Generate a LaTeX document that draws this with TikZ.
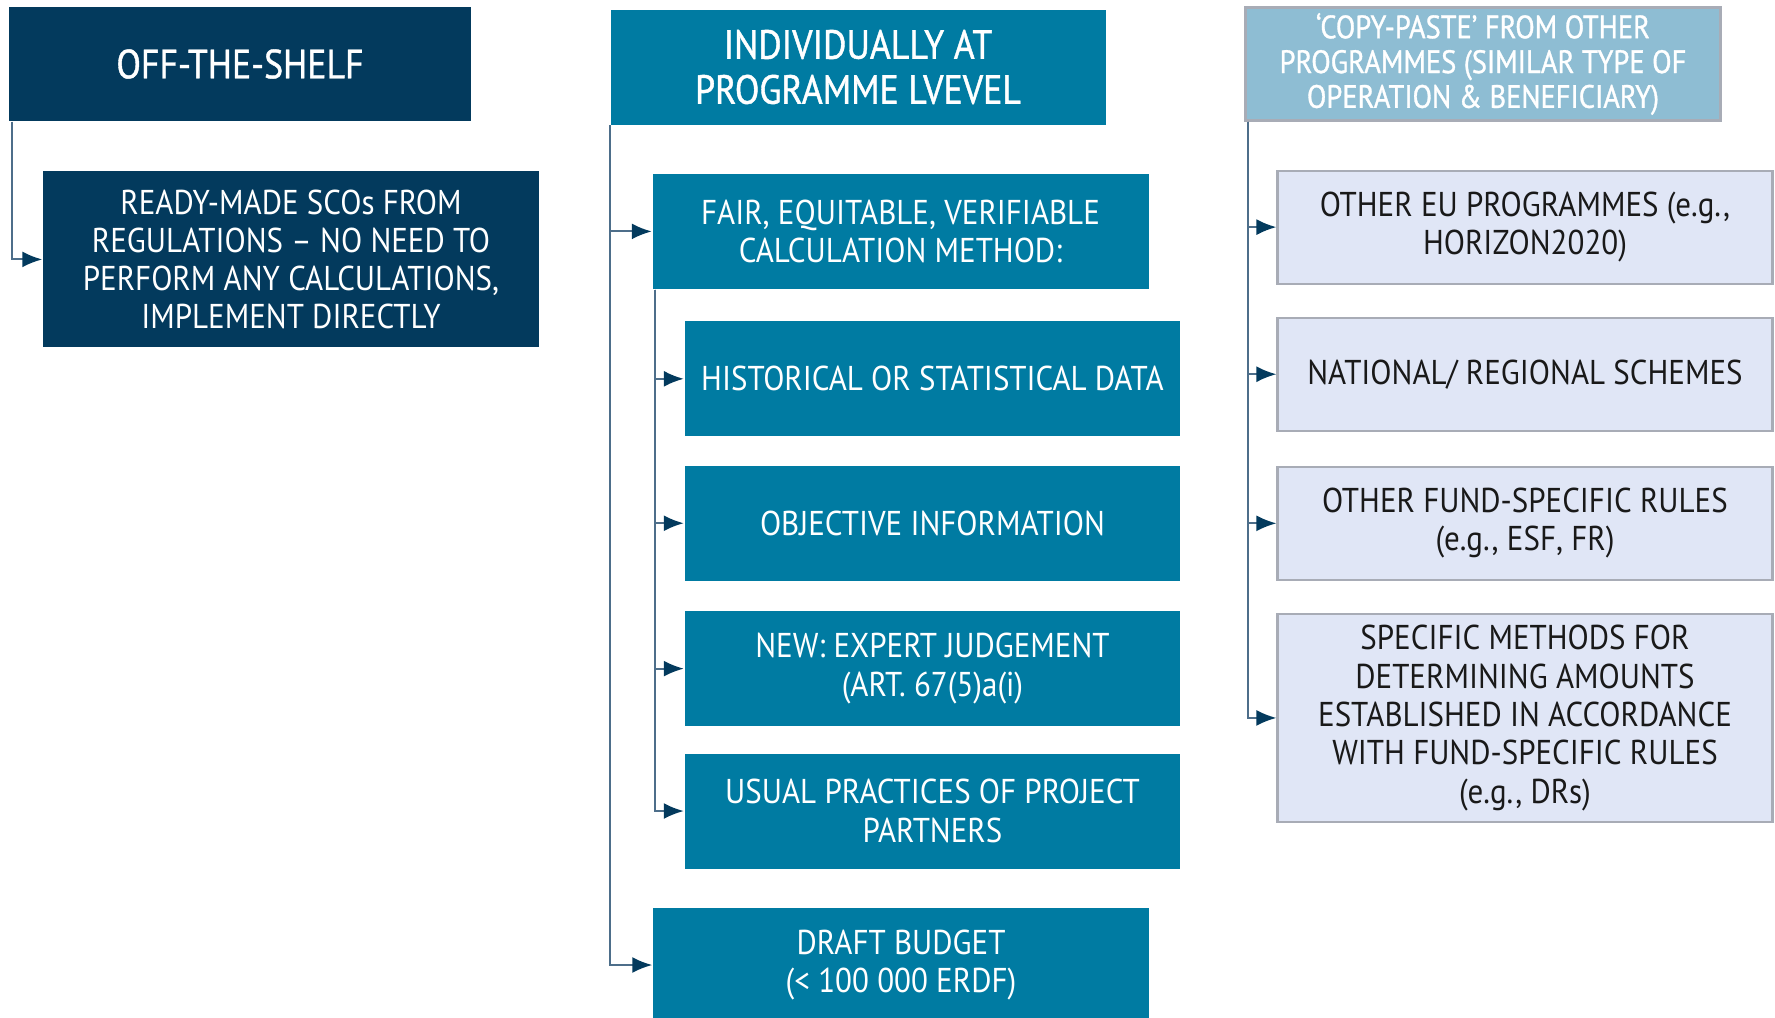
\documentclass[tikz,border=0pt]{standalone}
\usepackage{fontspec}
\setmainfont{PT Sans}[FakeStretch=0.9]
\newfontfamily\headfont{PT Sans}[FakeStretch=0.88, FakeBold=1]
\usetikzlibrary{positioning,arrows.meta}

\definecolor{navy}{HTML}{033A5D}
\definecolor{progblue}{HTML}{007BA2}
\definecolor{copyblue}{HTML}{8EBDD3}
\definecolor{lilac}{HTML}{E0E6F6}
\definecolor{framegray}{HTML}{A8ACB6}
\definecolor{linkblue}{HTML}{4D6E8A}

\tikzset{
  box/.style={rectangle, align=center, inner sep=1pt, minimum height=11.5mm,
    font=\fontsize{9.8}{10.9}\selectfont},
  head/.style={box, font=\headfont\fontsize{11.6}{12.8}\selectfont, text=white},
  shelf/.style={box, fill=navy, text=white, minimum width=49.6mm},
  prog/.style={box, fill=progblue, text=white, minimum width=49.6mm},
  other/.style={box, fill=lilac, draw=framegray, line width=0.6pt, text=black!90,
    minimum width=49.5mm, minimum height=11.3mm},
  link/.style={draw=linkblue, line width=0.6pt, -{Latex[length=2mm,width=1.6mm,color=navy]}}
}

\begin{document}
\begin{tikzpicture}[x=0.1mm, y=-0.1mm]
  \useasboundingbox (0,0) rectangle (1775,1017);

  % column headers
  \node[head, fill=navy, minimum width=46.2mm, minimum height=11.4mm] (off) at (240,64) {OFF-THE-SHELF};
  \node[head, fill=progblue, minimum width=49.5mm] (indiv) at (858,67) {INDIVIDUALLY AT\\PROGRAMME LVEVEL};
  \node[head, fill=copyblue, draw=framegray, line width=0.6pt, minimum width=47.5mm, minimum height=11.3mm,
    font=\headfont\fontsize{9.2}{9.9}\selectfont] (copy) at (1483,64)
    {‘COPY-PASTE’ FROM OTHER\\PROGRAMMES (SIMILAR TYPE OF\\OPERATION \& BENEFICIARY)};

  % off-the-shelf
  \node[shelf, minimum height=17.6mm] (ready) [below right=4.9mm and 3.4mm of off.south west]
    {READY-MADE SCOs FROM\\REGULATIONS – NO NEED TO\\PERFORM ANY CALCULATIONS,\\IMPLEMENT DIRECTLY};

  % programme level
  \node[prog] (fair) [below right=4.8mm and 4.2mm of indiv.south west] {FAIR, EQUITABLE, VERIFIABLE\\CALCULATION METHOD:};
  \node[prog] (hist) [below right=3.1mm and 3.2mm of fair.south west] {HISTORICAL OR STATISTICAL DATA};
  \node[prog] (obj) [below=2.8mm of hist] {OBJECTIVE INFORMATION};
  \node[prog] (new) [below=2.9mm of obj] {NEW: EXPERT JUDGEMENT\\(ART. 67(5)a(i)};
  \node[prog] (usual) [below=2.6mm of new] {USUAL PRACTICES OF PROJECT\\PARTNERS};
  \node[prog] (draft) at (901,965) {DRAFT BUDGET\\(< 100 000 ERDF)};

  % copy-paste
  \node[other] (eu) [below right=4.8mm and 3.2mm of copy.south west] {OTHER EU PROGRAMMES (e.g.,\\HORIZON2020)};
  \node[other] (nat) [below=3.2mm of eu] {NATIONAL/ REGIONAL SCHEMES};
  \node[other] (fund) [below=3.4mm of nat] {OTHER FUND-SPECIFIC RULES\\(e.g., ESF, FR)};
  \node[other, minimum height=20.8mm] (spec) [below=3.2mm of fund]
    {SPECIFIC METHODS FOR\\DETERMINING AMOUNTS\\ESTABLISHED IN ACCORDANCE\\WITH FUND-SPECIFIC RULES\\(e.g., DRs)};

  % connectors
  \draw[link] ([xshift=1]off.south west) |- (ready.west);
  \draw[link] (indiv.south west) |- (fair.west);
  \draw[link] (indiv.south west) |- (draft.west);
  \foreach \n in {hist,obj,new,usual}
    \draw[link] ([xshift=1]fair.south west) |- (\n.west);
  \foreach \n in {eu,nat,fund,spec}
    \draw[link] ([xshift=1]copy.south west) |- (\n.west);
\end{tikzpicture}
\end{document}
